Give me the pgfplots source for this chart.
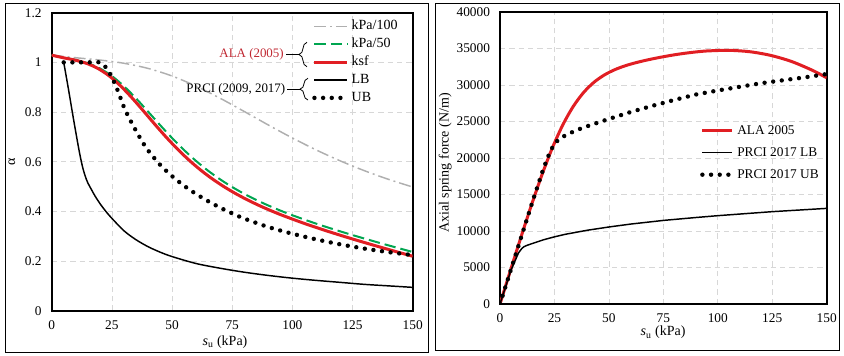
\documentclass[border=0pt]{standalone}
\usepackage{fontspec}
\setmainfont{Liberation Serif}
\usepackage{pgfplots}
\pgfplotsset{compat=1.18}
\usetikzlibrary{decorations.pathreplacing}
\definecolor{alared}{RGB}{225,30,35}
\definecolor{alatext}{RGB}{192,40,50}
\definecolor{ggreen}{RGB}{0,165,80}
\definecolor{ggray}{RGB}{175,175,175}
\definecolor{gridc}{RGB}{215,215,215}
\pgfplotsset{
  common/.style={
    scale only axis, axis line style={line width=1.6pt},
    major tick length=0pt, xmin=0, xmax=150, xtick={0,25,50,75,100,125,150},
    grid=major, grid style={gridc, dash pattern=on 4pt off 3pt, line width=0.5pt},
    tick label style={font=\fontsize{10}{12}\selectfont},
    /pgf/number format/assume math mode=true,
    /pgf/number format/1000 sep={},
    label style={font=\fontsize{10.5}{12}\selectfont},
    yticklabel style={xshift=-4pt}, xticklabel style={yshift=-4pt},
    scaled y ticks=false,
    every axis plot/.append style={line join=round},
  },
  ubdots/.style={black, line width=3.3pt, line cap=round, dash pattern=on 0pt off 6.5pt},
}
\begin{document}
\begin{tikzpicture}[x=0.75pt,y=0.75pt]
\useasboundingbox (0,0) rectangle (844,355);
% ---------------- left panel ----------------
\begin{axis}[common, at={(38.775pt,33.225pt)}, anchor=south west,
  width=270.75pt, height=223.5pt,
  ymin=0, ymax=1.2, ytick={0,0.2,0.4,0.6,0.8,1,1.2},
  yticklabel style={/pgf/number format/fixed},
  xlabel={\textit{s}\textsubscript{u} (kPa)}, ylabel={α},
  x label style={at={(axis description cs:0.48,-0.104)}, anchor=center},
  y label style={at={(axis description cs:-0.11,0.5)}, anchor=center},
  legend image code/.code={\draw[#1] (0pt,0pt) -- (24.75pt,0pt);},
  legend cell align=left,
  legend style={at={(axis description cs:0.721,0.975)}, anchor=north west,
    draw=none, fill=none, inner sep=0pt, row sep=4.4pt, column sep=1.5pt,
    nodes={inner sep=0pt, text height=7pt, text depth=2pt, font=\fontsize{10.5}{12}\selectfont}},
]
\addplot[ggray, line width=1.1pt, dash pattern=on 9pt off 3pt on 1.5pt off 3pt, smooth] coordinates {
(0,1.029)(10,1.0187)(20,1.0094)(30,0.9964)(40,0.9758)(50,0.9451)(60,0.9042)(70,0.8555)(80,0.8022)(90,0.7479)(100,0.6955)(110,0.6469)(120,0.6029)(130,0.5636)(140,0.5288)(150,0.498)};
\addlegendentry{kPa/100}
\addplot[ggreen, line width=1.5pt, dash pattern=on 8.5pt off 3.75pt, smooth] coordinates {
(0,1.029)(5,1.0187)(10,1.0094)(15,0.9964)(20,0.9758)(25,0.9451)(30,0.9042)(35,0.8555)(40,0.8022)(45,0.7479)(50,0.6955)(55,0.6469)(60,0.6029)(65,0.5636)(70,0.5288)(75,0.498)(80,0.4706)(85,0.4460)(90,0.4237)(95,0.4033)(100,0.3844)(110,0.3502)(120,0.3192)(130,0.2903)(140,0.2629)(150,0.2364)};
\addlegendentry{kPa/50}
\addplot[alared, line width=2.25pt, smooth] coordinates {
(0,1.029)(4.788,1.0187)(9.576,1.0094)(14.364,0.9964)(19.152,0.9758)(23.94,0.9451)(28.728,0.9042)(33.516,0.8555)(38.304,0.8022)(43.092,0.7479)(47.88,0.6955)(52.668,0.6469)(57.456,0.6029)(62.244,0.5636)(67.032,0.5288)(71.82,0.498)(76.608,0.4706)(81.396,0.4460)(86.184,0.4237)(90.972,0.4033)(95.76,0.3844)(105.336,0.3502)(114.912,0.3192)(124.488,0.2903)(134.064,0.2629)(143.64,0.2364)(150,0.2193)};
\addlegendentry{ksf}
\addplot[black, line width=1.1pt, smooth] coordinates {
(5,1.0)(7,0.89)(9,0.775)(11,0.665)(12,0.615)(13,0.572)(14,0.54)(15,0.515)(16.5,0.488)(18,0.462)(20,0.432)(22.5,0.40)(25,0.372)(30,0.322)(35,0.286)(40,0.258)(45,0.236)(50,0.218)(60,0.19)(70,0.171)(80,0.155)(90,0.142)(100,0.131)(110,0.122)(120,0.114)(130,0.106)(140,0.100)(150,0.094)};
\addlegendentry{LB}
\addplot[ubdots, smooth] coordinates {
(5,1)(10,1)(15,1)(20,1)(22.5,0.98)(25,0.94)(27.5,0.885)(30,0.82)(32.5,0.77)(35,0.725)(37.5,0.683)(40,0.646)(45,0.588)(50,0.542)(55,0.503)(60,0.47)(65,0.441)(70,0.415)(75,0.392)(80,0.371)(90,0.337)(100,0.31)(110,0.287)(120,0.267)(130,0.25)(140,0.236)(150,0.224)};
\addlegendentry{UB}
\end{axis}
% braces and group labels
\draw[line width=0.6pt, decorate, decoration={brace, amplitude=6pt}] (307,288.3) -- (307,312.7);
\draw[line width=0.6pt] (286,300.5) -- (299,300.5);
\node[anchor=east, inner sep=0pt, text=alatext, font=\fontsize{9.7}{11}\selectfont] at (284,301) {ALA (2005)};
\draw[line width=0.6pt, decorate, decoration={brace, amplitude=6pt}] (308,255) -- (308,276.7);
\draw[line width=0.6pt] (287,265.8) -- (300,265.8);
\node[anchor=east, inner sep=0pt, font=\fontsize{9.7}{11}\selectfont] at (285.5,266) {PRCI (2009, 2017)};
% ---------------- right panel ----------------
\begin{axis}[common, at={(375pt,38.25pt)}, anchor=south west,
  width=245pt, height=219pt,
  ymin=0, ymax=40000, ytick={0,5000,10000,15000,20000,25000,30000,35000,40000},
  xlabel={\textit{s}\textsubscript{u} (kPa)}, ylabel={Axial spring force (N/m)},
  x label style={at={(axis description cs:0.499,-0.098)}, anchor=center},
  y label style={at={(axis description cs:-0.168,0.483)}, anchor=center},
  legend image code/.code={\draw[#1] (0pt,0pt) -- (22.5pt,0pt);},
  legend cell align=left,
  legend style={at={(axis description cs:0.612,0.615)}, anchor=north west,
    draw=none, fill=none, inner sep=0pt, row sep=7.5pt, column sep=2pt,
    nodes={inner sep=0pt, text height=7pt, text depth=2pt, font=\fontsize{10}{12}\selectfont}},
]
\addplot[alared, line width=2.25pt, smooth] coordinates {
(0,0)(4.788,4594)(9.576,9105)(14.364,13482)(19.152,17605)(23.94,21313)(28.728,24469)(33.516,27010)(38.304,28945)(43.092,30360)(47.88,31369)(52.668,32095)(57.456,32631)(62.244,33046)(67.032,33391)(71.82,33692)(76.608,33961)(81.396,34198)(86.184,34398)(90.972,34561)(95.76,34675)(105.336,34749)(114.912,34552)(124.488,34043)(134.064,33201)(143.64,31987)(150,30987)};
\addlegendentry{ALA 2005}
\addplot[black, line width=1.1pt] coordinates {
(0,0)(5,4600)(8.5,7000)(10,7600)(11,7850)(12.5,8050)(16,8400)(20,8800)(25,9200)(30,9550)(40,10100)(50,10550)(60,10950)(75,11450)(90,11850)(100,12100)(125,12650)(150,13100)};
\addlegendentry{PRCI 2017 LB}
\addplot[ubdots] coordinates {
(0,0)(5,4700)(10,9400)(15,14100)(20,18600)(22.5,20500)(25,22000)(27.5,22650)(30,23100)(35,23800)(40,24350)(45,24850)(50,25350)(60,26300)(70,27150)(80,27950)(90,28700)(100,29250)(110,29750)(120,30250)(130,30650)(140,31050)(150,31500)};
\addlegendentry{PRCI 2017 UB}
\end{axis}
% outer frames
\draw[line width=0.75pt] (5.5,3) rectangle (428,352);
\draw[line width=0.75pt] (435,5) rectangle (839,352);
\end{tikzpicture}
\end{document}
